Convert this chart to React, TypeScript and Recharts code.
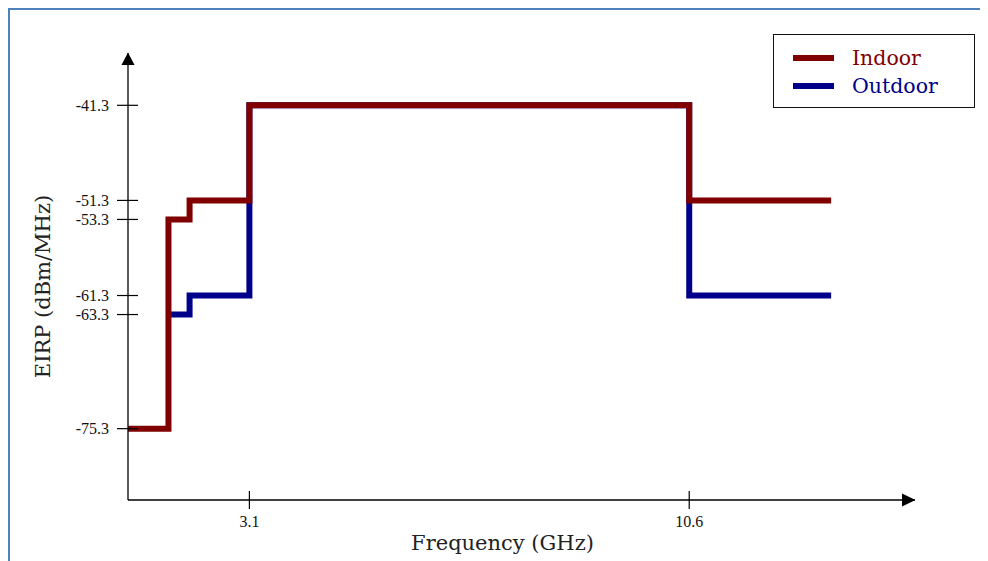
import React from 'react';
import { LineChart, Line, XAxis, YAxis, ReferenceDot } from 'recharts';

// values (GHz / dBm/MHz)
const FREQ_INDOOR = [1.03, 1.72, 2.08, 3.1, 10.6, 13.02];
const EIRP_INDOOR = [-75.3, -53.3, -51.3, -41.3, -51.3, -51.3];
const FREQ_OUTDOOR = [1.72, 2.08, 3.1, 10.6, 13.02];
const EIRP_OUTDOOR = [-63.3, -61.3, -41.3, -61.3, -61.3];
const X_TICKS = [3.1, 10.6];
const Y_TICKS = [-41.3, -51.3, -53.3, -61.3, -63.3, -75.3];
const X_DOMAIN = [1.03, 14.45];
const Y_DOMAIN = [-82.8, -35.8];
const SERIES = [
  { name: 'Indoor', color: '#800000' },
  { name: 'Outdoor', color: '#00008b' },
];

const FONT = '"DejaVu Serif", "Liberation Serif", serif';
const TICK_FONT = '"Liberation Serif", serif';

const indoorData = FREQ_INDOOR.map((f, i) => ({ f, v: EIRP_INDOOR[i] }));
const outdoorData = FREQ_OUTDOOR.map((f, i) => ({ f, v: EIRP_OUTDOOR[i] }));

const YTick = ({ x, y, payload }: any) => (
  <g>
    <line x1={x - 11} x2={x + 10} y1={y} y2={y} stroke="#000" strokeWidth={1.2} />
    <text x={x - 19} y={y} dy="0.35em" textAnchor="end" fontFamily={TICK_FONT} fontSize={16} fill="#111">
      {String(payload.value)}
    </text>
  </g>
);

const XTick = ({ x, y, payload }: any) => (
  <g>
    <line x1={x} x2={x} y1={y - 9} y2={y + 9} stroke="#000" strokeWidth={1.2} />
    <text x={x} y={y + 27} textAnchor="middle" fontFamily={TICK_FONT} fontSize={16} fill="#111">
      {String(payload.value)}
    </text>
  </g>
);

const arrowRight = (p: any) => (
  <path d={`M${p.cx + 0.5},${p.cy} L${p.cx - 13},${p.cy - 6.5} L${p.cx - 13},${p.cy + 6.5} Z`} fill="#000" />
);
const arrowUp = (p: any) => (
  <path d={`M${p.cx},${p.cy - 0.5} L${p.cx - 6.5},${p.cy + 12} L${p.cx + 6.5},${p.cy + 12} Z`} fill="#000" />
);

export default function App() {
  return (
    <div style={{ position: 'relative', width: 980, height: 553, background: '#fff', overflow: 'hidden' }}>
      <div
        style={{
          position: 'absolute', left: 0, top: 0, width: 990, height: 560,
          borderTop: '2.5px solid #4f81bd', borderLeft: '2.5px solid #4f81bd',
        }}
      />
      <div style={{ position: 'absolute', left: 0, top: 0 }}>
        <LineChart width={980} height={553} margin={{ top: 45, right: 73, left: 0, bottom: 0 }}>
          <XAxis
            type="number" dataKey="f" domain={X_DOMAIN} ticks={X_TICKS} allowDataOverflow
            height={61} axisLine={{ stroke: '#000', strokeWidth: 1.3 }} tickLine={false}
            tickSize={0} tickMargin={0} tick={<XTick />}
            label={{
              content: ({ viewBox }: any) => (
                <text x={viewBox.x + viewBox.width / 2 - 19} y={viewBox.y + 50} textAnchor="middle"
                  fontFamily={FONT} fontSize={21} fill="#222">Frequency (GHz)</text>
              ),
            }}
          />
          <YAxis
            type="number" dataKey="v" domain={Y_DOMAIN} ticks={Y_TICKS} allowDataOverflow
            width={120} axisLine={{ stroke: '#000', strokeWidth: 1.3 }} tickLine={false}
            tickSize={0} tickMargin={0} tick={<YTick />} interval={0}
            label={{
              content: ({ viewBox }: any) => {
                const cx = 42;
                const cy = viewBox.y + viewBox.height / 2 + 10;
                return (
                  <text x={cx} y={cy} transform={`rotate(-90, ${cx}, ${cy})`} textAnchor="middle"
                    fontFamily={FONT} fontSize={21} fill="#222">EIRP (dBm/MHz)</text>
                );
              },
            }}
          />
          <Line
            data={outdoorData} dataKey="v" name={SERIES[1].name} type="stepAfter"
            stroke={SERIES[1].color} strokeWidth={6} dot={false} activeDot={false}
            strokeLinejoin="miter" strokeLinecap="butt" isAnimationActive={false}
          />
          <Line
            data={indoorData} dataKey="v" name={SERIES[0].name} type="stepAfter"
            stroke={SERIES[0].color} strokeWidth={6} dot={false} activeDot={false}
            strokeLinejoin="miter" strokeLinecap="butt" isAnimationActive={false}
          />
          <ReferenceDot x={X_DOMAIN[1]} y={Y_DOMAIN[0]} r={0} ifOverflow="visible" shape={arrowRight} />
          <ReferenceDot x={X_DOMAIN[0]} y={Y_DOMAIN[1]} r={0} ifOverflow="visible" shape={arrowUp} />
        </LineChart>
      </div>
      {/* legend box */}
      <div
        style={{
          position: 'absolute', left: 765, top: 26, width: 200, height: 72,
          border: '1.5px solid #111', background: '#fff', fontFamily: FONT, fontSize: 20.5,
        }}
      >
        {SERIES.map((s, i) => (
          <div key={s.name} style={{ position: 'absolute', left: 0, top: 9 + i * 28, height: 28, display: 'flex', alignItems: 'center' }}>
            <span style={{ display: 'inline-block', marginLeft: 19, width: 41, height: 6, background: s.color }} />
            <span style={{ marginLeft: 18, color: s.color, lineHeight: '28px' }}>{s.name}</span>
          </div>
        ))}
      </div>
    </div>
  );
}
